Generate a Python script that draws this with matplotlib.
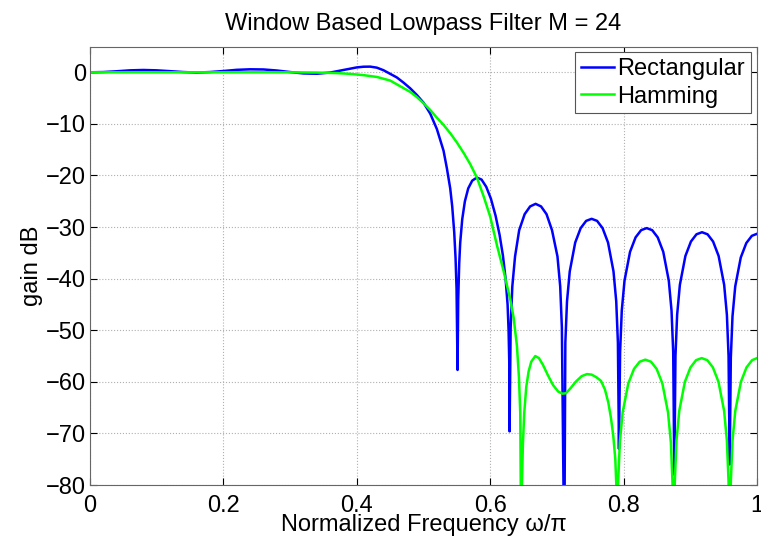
import matplotlib
matplotlib.use('Agg')
import matplotlib.pyplot as plt
import numpy as np

# values (normalized frequency, gain in dB)
rect_freq = [0.0, 0.02, 0.04, 0.06, 0.08, 0.10, 0.12, 0.14, 0.16, 0.18, 0.20, 0.22, 0.24, 0.26,
	0.28, 0.30, 0.32, 0.34, 0.36, 0.38, 0.40, 0.41, 0.42, 0.43, 0.44, 0.45, 0.46, 0.47, 0.48,
	0.49, 0.50, 0.51, 0.52, 0.53, 0.535, 0.54, 0.543, 0.546, 0.548, 0.5495, 0.551,
	0.552, 0.5535, 0.555, 0.558, 0.562, 0.567, 0.573, 0.580, 0.587, 0.594, 0.601, 0.608, 0.614,
	0.619, 0.623, 0.626, 0.6275, 0.6285, 0.629,
	0.6306, 0.6331, 0.6372, 0.6434, 0.6516, 0.6598, 0.668, 0.6762, 0.6844, 0.6926, 0.7008,
	0.7049, 0.7074, 0.711,
	0.7126, 0.7151, 0.7192, 0.7274, 0.7356, 0.7438, 0.752, 0.7602, 0.7684, 0.7766, 0.7848,
	0.7889, 0.7914, 0.793,
	0.7947, 0.7972, 0.8013, 0.8096, 0.8179, 0.8262, 0.8345, 0.8428, 0.8511, 0.8594, 0.8677,
	0.8718, 0.8743, 0.876,
	0.8777, 0.8802, 0.8843, 0.8926, 0.9009, 0.9092, 0.9175, 0.9258, 0.9341, 0.9424, 0.9507,
	0.9548, 0.9573, 0.959,
	0.9607, 0.9632, 0.9673, 0.9756, 0.9839, 0.9922, 1.0]
rect_gain = [0.0, 0.05, 0.2, 0.38, 0.45, 0.38, 0.22, 0.05, -0.05, 0.05, 0.25, 0.48, 0.58, 0.55,
	0.35, 0.05, -0.22, -0.28, -0.05, 0.45, 0.95, 1.08, 1.1, 0.9, 0.4, -0.3, -1.0, -2.0, -3.1,
	-4.4, -5.9, -8.0, -11.0, -15.2, -18.6, -22.5, -26, -31, -36, -42, -57.7,
	-44, -37, -33, -28.5, -25, -22.5, -21, -20.4, -20.8, -22.2, -24.5, -27.8, -31.5,
	-35.5, -40, -45, -50, -56, -69.6,
	-49.5, -41.5, -35.7, -30.6, -27.5, -26.0, -25.5, -26.0, -27.5, -30.6, -35.7,
	-41.5, -49.5, -95,
	-52.4, -44.4, -38.6, -33.0, -30.2, -28.8, -28.4, -28.8, -30.2, -33.0, -38.6,
	-44.4, -52.4, -73,
	-54.2, -46.2, -40.4, -34.8, -32.0, -30.6, -30.2, -30.6, -32.0, -34.8, -40.4,
	-46.2, -54.2, -78,
	-55.0, -47.0, -41.2, -35.6, -32.8, -31.4, -31.0, -31.4, -32.8, -35.6, -41.2,
	-47.0, -55.0, -76,
	-55.3, -47.3, -41.5, -35.9, -33.1, -31.7, -31.3]

hamm_freq = [0.0, 0.05, 0.10, 0.15, 0.20, 0.25, 0.30, 0.34, 0.37, 0.39, 0.41, 0.43, 0.45, 0.465,
	0.48, 0.49, 0.50, 0.51, 0.52, 0.53, 0.54, 0.55, 0.56, 0.57, 0.58, 0.59, 0.60, 0.61, 0.62,
	0.63, 0.635, 0.64, 0.643, 0.645, 0.6465,
	0.6475, 0.649, 0.651, 0.654, 0.6575, 0.6615, 0.6675, 0.673, 0.679, 0.686, 0.694, 0.702,
	0.7085, 0.7135, 0.720, 0.728, 0.737, 0.745, 0.752, 0.759, 0.766, 0.772, 0.777, 0.781,
	0.7845, 0.7875, 0.789, 0.790,
	0.7917, 0.7943, 0.7985, 0.807, 0.8155, 0.824, 0.8325, 0.841, 0.8495, 0.858, 0.8665,
	0.8708, 0.8733, 0.875,
	0.8767, 0.8792, 0.8834, 0.8918, 0.9002, 0.9086, 0.917, 0.9254, 0.9338, 0.9422, 0.9506,
	0.9548, 0.9573, 0.959,
	0.9607, 0.9632, 0.9674, 0.9758, 0.9842, 0.9926, 1.0]
hamm_gain = [0.0, 0.0, 0.0, 0.0, 0.0, 0.0, 0.0, -0.05, -0.15, -0.3, -0.55, -0.9, -1.6, -2.7,
	-3.8, -4.8, -6.0, -7.3, -8.8, -10.2, -11.8, -13.6, -15.6, -17.8, -20.4, -24.0, -28, -33.5, -38.5,
	-44, -47.5, -53, -59, -66, -95,
	-80, -72, -66, -61, -58, -56.1, -55.0, -55.4, -56.7, -58.6, -60.6, -61.9,
	-62.3, -62.2, -61.3, -60.0, -58.9, -58.5, -58.6, -59.1, -59.8, -61.5, -64, -67,
	-70.5, -75, -80, -95,
	-79.7, -71.7, -65.9, -60.3, -57.5, -56.1, -55.7, -56.1, -57.5, -60.3, -65.9,
	-71.7, -79.7, -95,
	-79.4, -71.4, -65.6, -60.0, -57.2, -55.8, -55.4, -55.8, -57.2, -60.0, -65.6,
	-71.4, -79.4, -95,
	-79.4, -71.4, -65.6, -60.0, -57.2, -55.8, -55.4]

plt.rcParams['font.family'] = ['Liberation Sans', 'DejaVu Sans']

fig = plt.figure(figsize=(7.61, 5.37), dpi=100)
ax = fig.add_axes([0.1183, 0.0968, 0.8765, 0.8166])

ax.plot(rect_freq, rect_gain, color=(0, 0, 1), lw=1.8, label='Rectangular')
ax.plot(hamm_freq, hamm_gain, color=(0, 1, 0), lw=1.8, label='Hamming')

ax.set_xlim(0, 1)
ax.set_ylim(-80, 5)
ax.set_xticks(np.arange(0, 1.01, 0.2))
ax.set_xticklabels(['0', '0.2', '0.4', '0.6', '0.8', '1'])
ax.set_yticks(np.arange(-80, 1, 10))
ax.tick_params(direction='in', top=True, right=True, labelsize=17, length=5, pad=3)
ax.tick_params(axis='x', pad=7.5)
for s in ax.spines.values():
	s.set_color('#666666')
ax.grid(True, linestyle=':', color='#b0b0b0', lw=0.8)

ax.set_title('Window Based Lowpass Filter M = 24', fontsize=17, pad=12)
ax.set_xlabel('Normalized Frequency \u03c9/\u03c0', fontsize=17)
ax.xaxis.set_label_coords(0.5, -0.067)
ax.set_ylabel('gain dB', fontsize=17, labelpad=2)

leg = ax.legend(loc='upper right', fontsize=17, fancybox=False, framealpha=1,
	edgecolor='#555555', handlelength=1.4, borderaxespad=0.25, borderpad=0.25,
	labelspacing=0.22, handletextpad=0.15)
leg.get_frame().set_linewidth(0.8)

fig.savefig('out.png', dpi=100)
